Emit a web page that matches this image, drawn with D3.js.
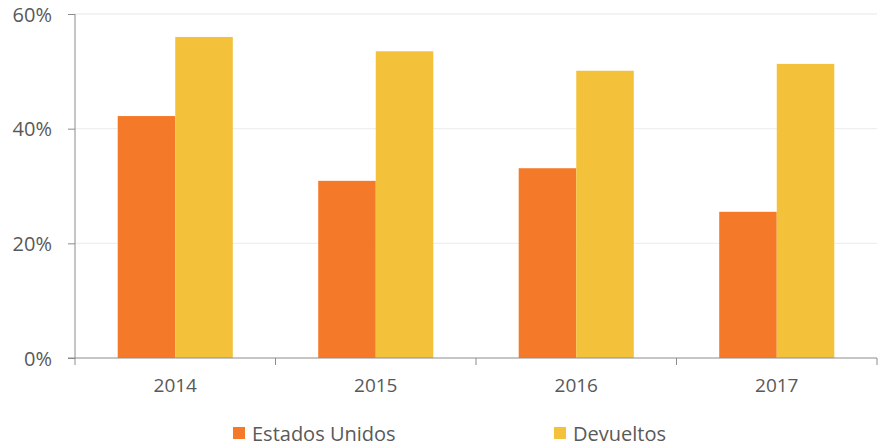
<!DOCTYPE html>
<html>
<head>
<meta charset="utf-8">
<script src="https://cdn.jsdelivr.net/npm/d3@7"></script>
<style>
  body { margin: 0; background: #fff; }
  #chart { width: 885px; height: 446px; }
  text { font-family: "Open Sans", "DejaVu Sans", sans-serif; fill: #595959; }
</style>
</head>
<body>
<div id="chart"><svg width="885" height="446"></svg></div>
<script>
const years = ["2014", "2015", "2016", "2017"];
const estadosUnidos = [42.2, 30.9, 33.1, 25.5];
const devueltos = [56.0, 53.5, 50.1, 51.3];
const seriesNames = ["Estados Unidos", "Devueltos"];
const seriesColors = ["#f47a2a", "#f4c13b"];
const yTicks = [0, 20, 40, 60];

const margin = { top: 14, right: 8, bottom: 88, left: 75 };
const width = 885 - margin.left - margin.right;
const height = 446 - margin.top - margin.bottom;

const svg = d3.select("#chart svg");
const g = svg.append("g")
    .attr("transform", "translate(" + margin.left + "," + margin.top + ")");

const data = years.map(function(y, i) {
    return { year: y, values: [estadosUnidos[i], devueltos[i]] };
});

// scales
const x0 = d3.scaleBand().domain(years).range([0, width]).paddingInner(0).paddingOuter(0);
const x1 = d3.scaleBand().domain([0, 1]).range([0, x0.bandwidth() * 0.574])
    .padding(0);
const groupOffset = (x0.bandwidth() - x1.range()[1]) / 2;
const y = d3.scaleLinear().domain([0, 60]).range([height, 0]);

// gridlines
g.append("g")
    .selectAll("line")
    .data(yTicks.filter(function(d) { return d > 0; }))
    .join("line")
    .attr("x1", 0)
    .attr("x2", width)
    .attr("y1", function(d) { return y(d); })
    .attr("y2", function(d) { return y(d); })
    .attr("stroke", "#efefef")
    .attr("stroke-width", 1.3);

// bars
const groups = g.append("g")
    .selectAll("g")
    .data(data)
    .join("g")
    .attr("transform", function(d) { return "translate(" + (x0(d.year) + groupOffset) + ",0)"; });
groups.selectAll("rect")
    .data(function(d) { return d.values; })
    .join("rect")
    .attr("x", function(d, i) { return x1(i); })
    .attr("width", x1.bandwidth())
    .attr("y", function(d) { return y(d); })
    .attr("height", function(d) { return height - y(d); })
    .attr("fill", function(d, i) { return seriesColors[i]; });

// y axis
const yAxis = g.append("g")
    .call(d3.axisLeft(y).tickValues(yTicks).tickSize(7).tickPadding(16)
        .tickFormat(function(d) { return d + "%"; }));
yAxis.select(".domain").attr("stroke", "#8c8c8c").attr("d", "M0," + y(60) + "V" + height);
yAxis.selectAll(".tick line").attr("stroke", "#8c8c8c");
yAxis.selectAll("text").style("font-size", "20px").attr("dy", "0.35em");

// x axis
const xAxis = g.append("g")
    .attr("transform", "translate(0," + height + ")")
    .call(d3.axisBottom(x0).tickSize(0).tickPadding(21));
xAxis.select(".domain").attr("stroke", "#8c8c8c").attr("d", "M-7,0H" + width);
xAxis.selectAll("text").style("font-size", "19px");
xAxis.append("g")
    .selectAll("line")
    .data(years.concat(["end"]))
    .join("line")
    .attr("x1", function(d, i) { return i * x0.bandwidth(); })
    .attr("x2", function(d, i) { return i * x0.bandwidth(); })
    .attr("y1", 0)
    .attr("y2", 7)
    .attr("stroke", "#8c8c8c");

// legend
const legendX = [233, 554];
const legend = svg.append("g")
    .selectAll("g")
    .data(seriesNames)
    .join("g")
    .attr("transform", function(d, i) { return "translate(" + legendX[i] + ",427)"; });
legend.append("rect")
    .attr("width", 12)
    .attr("height", 12)
    .attr("fill", function(d, i) { return seriesColors[i]; });
legend.append("text")
    .attr("x", 19)
    .attr("y", 7)
    .attr("dy", "0.35em")
    .style("font-size", "20px")
    .text(function(d) { return d; });
</script>
</body>
</html>
